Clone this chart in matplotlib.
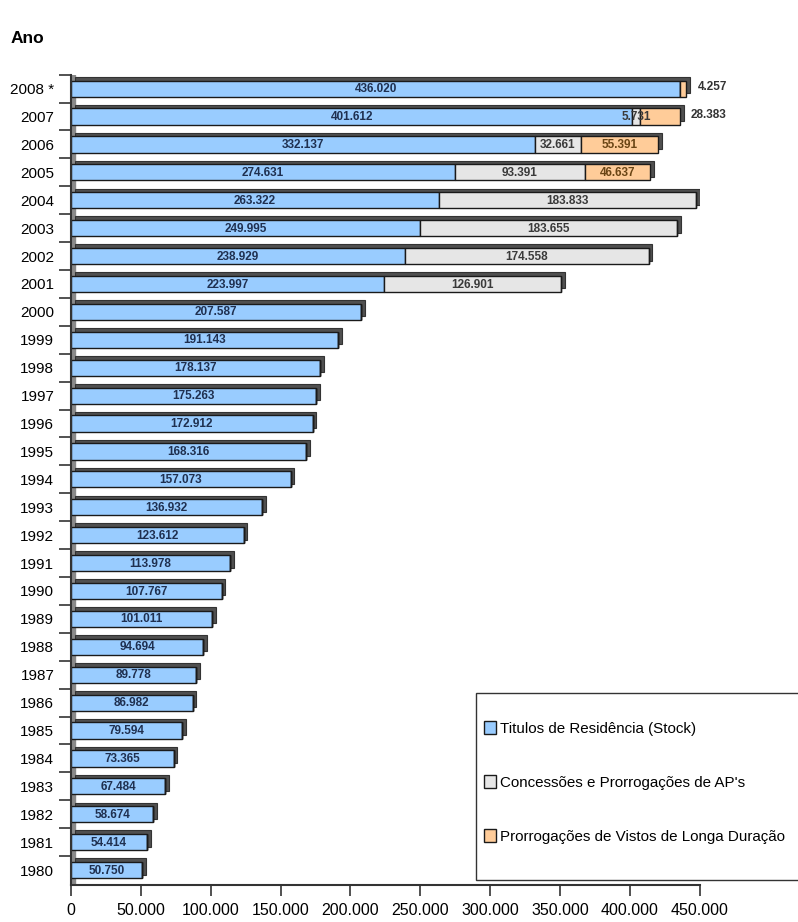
import matplotlib.pyplot as plt
import numpy as np
from matplotlib.patches import Rectangle

plt.rcParams['font.family'] = ['Liberation Sans', 'DejaVu Sans']

years = ["1980", "1981", "1982", "1983", "1984", "1985", "1986", "1987", "1988", "1989",
         "1990", "1991", "1992", "1993", "1994", "1995", "1996", "1997", "1998", "1999",
         "2000", "2001", "2002", "2003", "2004", "2005", "2006", "2007", "2008 *"]
titulos = [50750, 54414, 58674, 67484, 73365, 79594, 86982, 89778, 94694, 101011,
           107767, 113978, 123612, 136932, 157073, 168316, 172912, 175263, 178137, 191143,
           207587, 223997, 238929, 249995, 263322, 274631, 332137, 401612, 436020]
concessoes = [0] * 21 + [126901, 174558, 183655, 183833, 93391, 32661, 5731, 0]
prorrogacoes = [0] * 25 + [46637, 55391, 28383, 4257]

series = [
    ("Titulos de Residência (Stock)", titulos, "#99ccff"),
    ("Concessões e Prorrogações de AP's", concessoes, "#e6e6e6"),
    ("Prorrogações de Vistos de Longa Duração", prorrogacoes, "#ffcc99"),
]


def fmt(v):
    return f"{v:,}".replace(",", ".")


fig = plt.figure(figsize=(7.98, 9.22), dpi=100)
ax = fig.add_axes([0.089, 0.040, 0.788, 0.879])

y = np.arange(len(years))
h = 0.58
dx, dy = 2600, 0.13

# shadow for the 3D look
totals = np.array(titulos) + np.array(concessoes) + np.array(prorrogacoes)
ax.barh(y + dy, totals, left=dx, height=h, color="#505050", edgecolor="#333333",
        linewidth=0.8, zorder=1)

left = np.zeros(len(years))
for name, vals, col in series:
    vals = np.array(vals)
    ax.barh(y, vals, left=left, height=h, color=col, edgecolor="#1a1a1a",
            linewidth=1.0, label=name, zorder=2)
    for i, v in enumerate(vals):
        if v == 0:
            continue
        if years[i] in ("2008 *", "2007") and name.startswith("Prorroga"):
            ax.text(totals[i] + 8000, y[i] + 0.05, fmt(v), ha="left", va="center",
                    fontsize=8.5, fontweight="bold", color="#333333", zorder=4)
        else:
            col_txt = "#1f3050" if col == "#99ccff" else "#3a3a3a"
            if name.startswith("Prorroga"):
                col_txt = "#6a4515"
            ax.text(left[i] + v / 2, y[i] - 0.02, fmt(v), ha="center", va="center",
                    fontsize=8.5, fontweight="bold", color=col_txt, zorder=4)
    left += vals

ax.set_xlim(0, 450000)
ax.set_ylim(-0.54, 28.47)
ax.set_xticks(np.arange(0, 450001, 50000))
ax.set_xticklabels([fmt(v) for v in range(0, 450001, 50000)], fontsize=11.5)
ax.set_yticks(y)
ax.set_yticklabels(years, fontsize=11)
ax.tick_params(axis="y", length=0, pad=12)
ax.set_yticks(y + 0.5, minor=True)
ax.tick_params(axis="y", which="minor", length=9, width=1.2, color="#333333")
ax.tick_params(axis="x", length=8, width=1.2, pad=5, color="#333333")

ax.axvspan(0, 3000, color="#8a8a8a", zorder=0)
for s in ["top", "right"]:
    ax.spines[s].set_visible(False)
ax.spines["left"].set_linewidth(1.5)
ax.spines["bottom"].set_linewidth(1.5)
ax.spines["left"].set_color("#333333")
ax.spines["bottom"].set_color("#333333")

fig.text(0.013, 0.953, "Ano", fontsize=12.5, fontweight="bold")

# legend box (frame drawn separately, runs past the right edge like the original)
fig.patches.append(Rectangle((0.5965, 0.0456), 0.42, 0.2028, transform=fig.transFigure,
                             facecolor="white", edgecolor="#333333", linewidth=1.0,
                             zorder=5))
leg = fig.legend(loc="upper left", bbox_to_anchor=(0.606, 0.2175), fontsize=10.9,
                 frameon=False, labelspacing=2.6, handlelength=0.8, handleheight=0.9,
                 handletextpad=0.3, borderpad=0, borderaxespad=0)
leg.set_zorder(6)

plt.savefig("out.png", dpi=100)
